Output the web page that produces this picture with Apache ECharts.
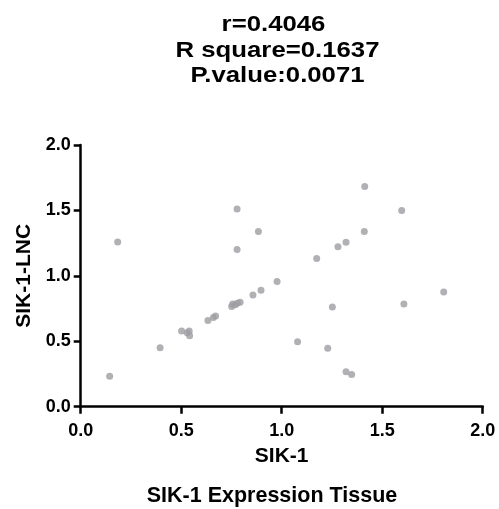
<!DOCTYPE html>
<html>
<head>
<meta charset="utf-8">
<script src="https://cdn.jsdelivr.net/npm/echarts@6/dist/echarts.min.js"></script>
<style>html,body{margin:0;padding:0;background:#fff;}#c{width:499px;height:509px;}</style>
</head>
<body>
<div id="c"></div>
<script>
const titleLines = ['r=0.4046', 'R square=0.1637', 'P.value:0.0071'];
const xName = 'SIK-1';
const yName = 'SIK-1-LNC';
const caption = 'SIK-1 Expression Tissue';
const xTicks = [0, 0.5, 1.0, 1.5, 2.0];
const yTicks = [0, 0.5, 1.0, 1.5, 2.0];
const sik1 = [0.184, 0.144, 0.395, 0.502, 0.530, 0.540, 0.542, 0.633, 0.660, 0.671,
  0.751, 0.756, 0.769, 0.779, 0.793, 0.857, 0.897, 0.977, 0.778, 0.884, 0.778, 1.079,
  1.413, 1.597, 1.411, 1.280, 1.320, 1.174, 1.806, 1.608, 1.252, 1.229, 1.320, 1.348];
const sik1lnc = [1.259, 0.232, 0.451, 0.579, 0.566, 0.579, 0.543, 0.658, 0.681, 0.693,
  0.765, 0.785, 0.780, 0.790, 0.798, 0.854, 0.890, 0.956, 1.511, 1.338, 1.201, 0.497,
  1.682, 1.499, 1.338, 1.223, 1.257, 1.132, 0.877, 0.785, 0.762, 0.446, 0.268, 0.247];

const points = sik1.map((x, i) => [x, sik1lnc[i]]);
const font = 'Arial, "Liberation Sans", sans-serif';
const titleX = [273.5, 277.5, 277.5];
const chart = echarts.init(document.getElementById('c'));
const axisCommon = {
  type: 'value', min: 0, max: 2, interval: 0.5,
  axisLine: { show: true, onZero: false, lineStyle: { color: '#000', width: 2.5 } },
  axisTick: { show: true, length: 7, lineStyle: { color: '#000', width: 2.5 } },
  splitLine: { show: false },
  nameLocation: 'middle',
  nameTextStyle: { fontFamily: font, fontWeight: 'bold', fontSize: 21, color: '#000' }
};
chart.setOption({
  animation: false,
  backgroundColor: '#fff',
  grid: { left: 80.7, right: 16.3, top: 145, bottom: 102.3, containLabel: false },
  xAxis: Object.assign({}, axisCommon, {
    name: xName, nameGap: 39,
    axisLabel: { margin: 15, fontFamily: font, fontWeight: 'bold', fontSize: 18, color: '#000',
      formatter: v => xTicks.includes(v) ? v.toFixed(1) : '' }
  }),
  yAxis: Object.assign({}, axisCommon, {
    name: yName, nameGap: 45,
    axisLabel: { margin: 10, fontFamily: font, fontWeight: 'bold', fontSize: 18, color: '#000',
      formatter: v => yTicks.includes(v) ? v.toFixed(1) : '' }
  }),
  graphic: titleLines.map((t, i) => ({
    type: 'text', x: titleX[i], y: 25 + i * 25.7, scaleX: 1.17,
    style: { text: t, fill: '#000', font: 'bold 22px ' + font, textAlign: 'center', textVerticalAlign: 'middle' }
  })).concat([{
    type: 'text', x: 272, y: 496,
    style: { text: caption, fill: '#000', font: 'bold 21.5px ' + font, textAlign: 'center', textVerticalAlign: 'middle' }
  }]),
  series: [{
    type: 'scatter', data: points, symbol: 'circle', symbolSize: 7,
    itemStyle: { color: '#9d9da3' }
  }]
});
</script>
</body>
</html>
